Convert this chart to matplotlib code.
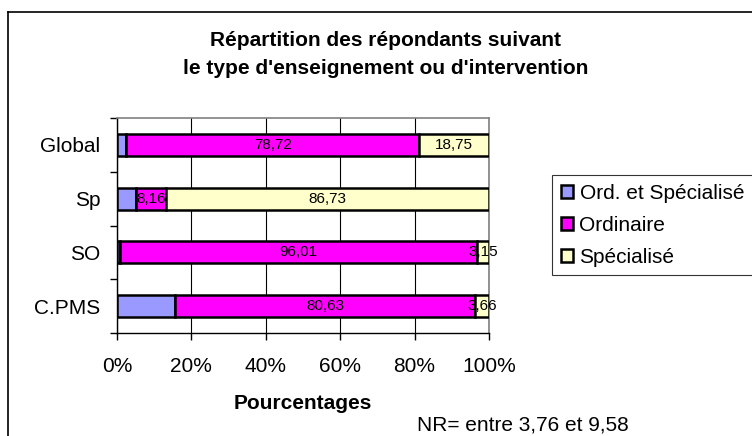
import matplotlib
matplotlib.use('Agg')
import matplotlib.pyplot as plt
from matplotlib.lines import Line2D
from matplotlib.patches import Patch

plt.rcParams['font.family'] = ['Liberation Sans', 'DejaVu Sans']

# data, bottom to top
categories = ['C.PMS', 'SO', 'Sp', 'Global']
ord_et_spe = [15.71, 0.84, 5.11, 2.53]
ordinaire = [80.63, 96.01, 8.16, 78.72]
specialise = [3.66, 3.15, 86.73, 18.75]
series_names = ['Ord. et Spécialisé', 'Ordinaire', 'Spécialisé']
colors = ['#9999FF', '#FF00FF', '#FFFFCC']
x_ticks = [0, 20, 40, 60, 80, 100]

fig = plt.figure(figsize=(7.52, 4.36), dpi=100)
ax = fig.add_axes([117/752, 1-333/436, 372/752, 215/436])

y = range(len(categories))
h = 0.41
left = [0]*len(categories)
for vals, col, name, lab in zip([ord_et_spe, ordinaire, specialise], colors, series_names,
                                [False, True, True]):
    bars = ax.barh(y, vals, left=left, height=h, color=col, edgecolor='black',
                   linewidth=1.8, label=name, zorder=3)
    if lab:
        for b, v in zip(bars, vals):
            ax.text(b.get_x() + b.get_width()/2, b.get_y() + h/2,
                    ('%.2f' % v).replace('.', ','), ha='center', va='center',
                    fontsize=11, zorder=4)
    left = [l + v for l, v in zip(left, vals)]

ax.set_xlim(0, 100)
ax.set_ylim(-0.5, 3.5)
ax.set_xticks(x_ticks)
ax.set_xticklabels(['%d%%' % t for t in x_ticks], fontsize=15)
ax.set_yticks(list(y))
ax.set_yticklabels(categories, fontsize=15)
ax.tick_params(axis='y', length=0, pad=12)
ax.set_yticks([-0.5, 0.5, 1.5, 2.5, 3.5], minor=True)
ax.tick_params(axis='y', which='minor', length=5, width=1, direction='out')
ax.tick_params(axis='x', length=5, width=1, direction='out', pad=12)
ax.grid(axis='x', color='black', linewidth=0.8, zorder=0)

for s in ['top', 'right']:
    ax.spines[s].set_color('#808080')
    ax.spines[s].set_linewidth(1.2)
for s in ['left', 'bottom']:
    ax.spines[s].set_color('black')
    ax.spines[s].set_linewidth(1.0)

fig.text(303/752, 1-403/436, 'Pourcentages', ha='center', va='center',
         fontsize=15, fontweight='bold')
fig.text(386/752, 1-40/436, 'Répartition des répondants suivant', ha='center', va='center',
         fontsize=15, fontweight='bold')
fig.text(386/752, 1-68/436, "le type d'enseignement ou d'intervention", ha='center', va='center',
         fontsize=15, fontweight='bold')
fig.text(417/752, 1-425/436, 'NR= entre 3,76 et 9,58', ha='left', va='center', fontsize=15)

# outer chart frame
fig.add_artist(Line2D([8/752, 8/752], [0, 1-12/436], color='black', linewidth=1.2))
fig.add_artist(Line2D([8/752, 1], [1-12/436, 1-12/436], color='black', linewidth=1.2))

handles = [Patch(facecolor=c, edgecolor='black', linewidth=1.8) for c in colors]
leg = fig.legend(handles, series_names, loc='upper left', bbox_to_anchor=(552/752, 1-175/436),
                 fontsize=15, frameon=True, fancybox=False, edgecolor='black',
                 handlelength=0.6, handleheight=0.6, handletextpad=0.3,
                 labelspacing=0.62, borderpad=0.42, borderaxespad=0)
leg.get_frame().set_linewidth(0.8)

fig.savefig('out.png', dpi=100)
